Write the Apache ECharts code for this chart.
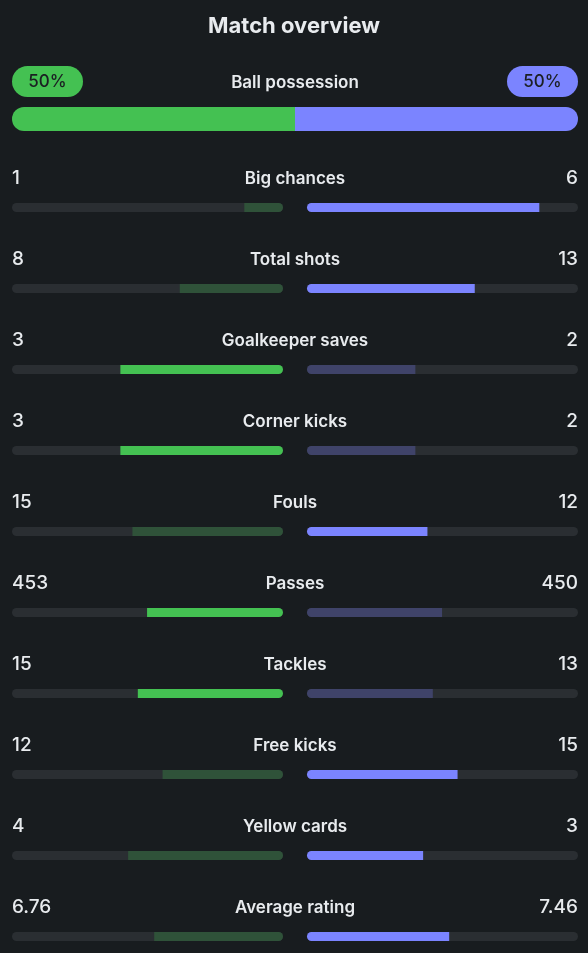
<!DOCTYPE html>
<html>
<head>
<meta charset="utf-8">
<script src="https://cdn.jsdelivr.net/npm/echarts@6/dist/echarts.min.js"></script>
<style>
html,body{margin:0;padding:0;background:#181c1f;}
#chart{width:588px;height:953px;}
</style>
</head>
<body>
<div id="chart"></div>
<script>
const titleText = 'Match overview';
const possessionLabel = 'Ball possession';
const possession = [50, 50];
const categories = ['Big chances','Total shots','Goalkeeper saves','Corner kicks','Fouls','Passes','Tackles','Free kicks','Yellow cards','Average rating'];
const homeValues = [1, 8, 3, 3, 15, 453, 15, 12, 4, 6.76];
const awayValues = [6, 13, 2, 2, 12, 450, 13, 15, 3, 7.46];
const lowerIsBetter = ['Fouls', 'Yellow cards'];

const GREEN = '#44c152', BLUE = '#7b84ff', DIM_GREEN = '#2f5239', DIM_BLUE = '#3f4369';
const TRACK = '#2a2e32', TEXT = '#e8ebee', FONT = 'Inter, Roboto, sans-serif';

function homeWins(i){
  const h = homeValues[i], a = awayValues[i];
  return lowerIsBetter.includes(categories[i]) ? h < a : h > a;
}
const homeFrac = categories.map((c,i)=>homeValues[i]/(homeValues[i]+awayValues[i]));
const awayFrac = categories.map((c,i)=>awayValues[i]/(homeValues[i]+awayValues[i]));

const chart = echarts.init(document.getElementById('chart'), null, {renderer:'canvas'});
const ROW_TOP = 167, ROW_H = 810;
const option = {
  backgroundColor: '#181c1f',
  animation: false,
  title: {text: titleText, left: 'center', top: 10,
    textStyle: {color: TEXT, fontSize: 22, fontWeight: 'bold', fontFamily: FONT}},
  grid: [
    {left: 12, width: 271, top: ROW_TOP, height: ROW_H, outerBoundsMode: 'none'},
    {left: 307, width: 271, top: ROW_TOP, height: ROW_H, outerBoundsMode: 'none'},
    {left: 12, width: 566, top: ROW_TOP, height: ROW_H, outerBoundsMode: 'none'},
    {left: 12, width: 566, top: 107, height: 24, outerBoundsMode: 'none'}
  ],
  xAxis: [
    {gridIndex: 0, type: 'value', min: 0, max: 1, inverse: true, show: false},
    {gridIndex: 1, type: 'value', min: 0, max: 1, show: false},
    {gridIndex: 2, type: 'value', min: 0, max: 1, show: false},
    {gridIndex: 3, type: 'value', min: 0, max: 100, show: false}
  ],
  yAxis: [
    {gridIndex: 0, type: 'category', data: categories, inverse: true, show: false},
    {gridIndex: 1, type: 'category', data: categories, inverse: true, show: false},
    {gridIndex: 2, type: 'category', data: categories, inverse: true, show: false},
    {gridIndex: 3, type: 'category', data: [possessionLabel], show: false}
  ],
  series: [
    {
      type: 'bar', xAxisIndex: 0, yAxisIndex: 0, barWidth: 9,
      showBackground: true,
      backgroundStyle: {color: TRACK, borderRadius: 4.5},
      data: homeFrac.map((v,i)=>({value: v, itemStyle: {color: homeWins(i) ? GREEN : DIM_GREEN, borderRadius: [0,4.5,4.5,0]}}))
    },
    {
      type: 'bar', xAxisIndex: 1, yAxisIndex: 1, barWidth: 9,
      showBackground: true,
      backgroundStyle: {color: TRACK, borderRadius: 4.5},
      data: awayFrac.map((v,i)=>({value: v, itemStyle: {color: homeWins(i) ? DIM_BLUE : BLUE, borderRadius: [4.5,0,0,4.5]}}))
    },
    {
      type: 'custom', xAxisIndex: 2, yAxisIndex: 2,
      data: categories.map((c,i)=>[0, i]),
      renderItem: function(params, api){
        const i = api.value(1);
        const pl = api.coord([0, i]), pc = api.coord([0.5, i]), pr = api.coord([1, i]);
        const y = pl[1] - 29;
        return {type: 'group', children: [
          {type: 'text', x: pl[0], y: y, style: {text: String(homeValues[i]), fill: TEXT, font: '500 19px ' + FONT, align: 'left', verticalAlign: 'middle'}},
          {type: 'text', x: pc[0], y: y, style: {text: categories[i], fill: TEXT, font: '600 17px ' + FONT, align: 'center', verticalAlign: 'middle'}},
          {type: 'text', x: pr[0], y: y, style: {text: String(awayValues[i]), fill: TEXT, font: '500 19px ' + FONT, align: 'right', verticalAlign: 'middle'}}
        ]};
      }
    },
    {
      type: 'bar', xAxisIndex: 3, yAxisIndex: 3, stack: 'poss', barWidth: 24,
      itemStyle: {color: GREEN, borderRadius: [12,0,0,12]},
      data: [possession[0]]
    },
    {
      type: 'bar', xAxisIndex: 3, yAxisIndex: 3, stack: 'poss', barWidth: 24,
      itemStyle: {color: BLUE, borderRadius: [0,12,12,0]},
      data: [possession[1]]
    },
    {
      type: 'custom', xAxisIndex: 3, yAxisIndex: 3,
      data: [[0, 0]],
      renderItem: function(params, api){
        const pl = api.coord([0, 0]), pc = api.coord([50, 0]), pr = api.coord([100, 0]);
        const cy = pl[1] - 37.5;
        const W = 71, H = 31;
        return {type: 'group', children: [
          {type: 'rect', shape: {x: pl[0], y: cy - H/2, width: W, height: H, r: H/2}, style: {fill: GREEN}},
          {type: 'text', x: pl[0] + W/2, y: cy + 0.5, style: {text: possession[0] + '%', fill: '#1b1f22', font: '500 17px ' + FONT, align: 'center', verticalAlign: 'middle'}},
          {type: 'rect', shape: {x: pr[0] - W, y: cy - H/2, width: W, height: H, r: H/2}, style: {fill: BLUE}},
          {type: 'text', x: pr[0] - W/2, y: cy + 0.5, style: {text: possession[1] + '%', fill: '#1b1f22', font: '500 17px ' + FONT, align: 'center', verticalAlign: 'middle'}},
          {type: 'text', x: pc[0], y: cy + 1, style: {text: possessionLabel, fill: TEXT, font: '600 17px ' + FONT, align: 'center', verticalAlign: 'middle'}}
        ]};
      }
    }
  ]
};
chart.setOption(option);
</script>
</body>
</html>
